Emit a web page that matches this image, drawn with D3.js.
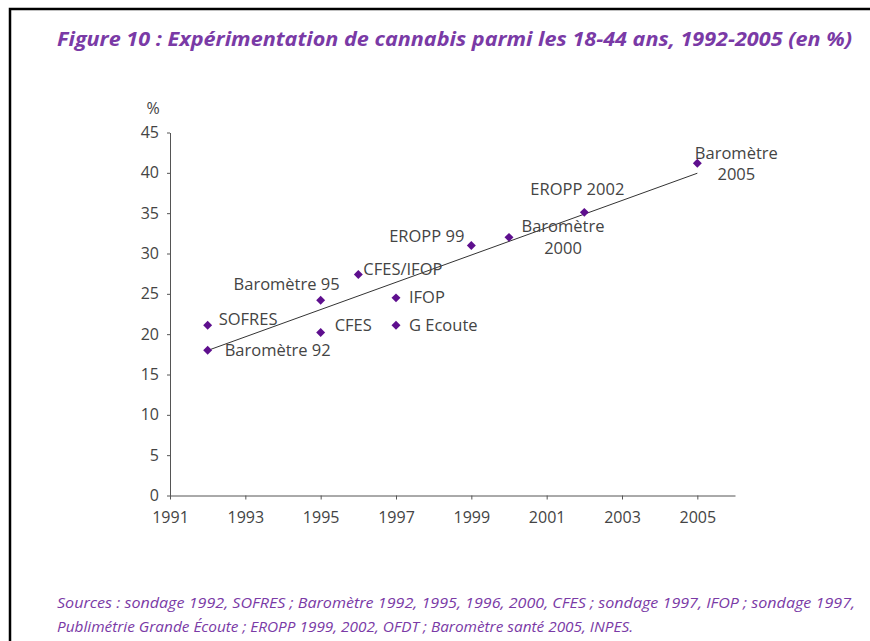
<!DOCTYPE html>
<html>
<head>
<meta charset="utf-8">
<script src="https://cdn.jsdelivr.net/npm/d3@7"></script>
<style>
  body { margin: 0; background: #fff; }
  svg { display: block; }
  .axis path, .axis line { stroke: #555; }
  .axis text { font-family: "Open Sans", sans-serif; font-size: 16px; fill: #444; }
  .lbl { font-family: "Open Sans", sans-serif; font-size: 16.5px; fill: #444; }
</style>
</head>
<body>
<svg width="870" height="641"></svg>
<script>
// survey points
var names  = ["Baromètre 92", "SOFRES", "Baromètre 95", "CFES", "CFES/IFOP", "IFOP", "G Ecoute",
              "EROPP 99", "Baromètre 2000", "EROPP 2002", "Baromètre 2005"];
var years  = [1992, 1992, 1995, 1995, 1996, 1997, 1997, 1999, 2000, 2002, 2005];
var values = [18, 21.1, 24.2, 20.2, 27.4, 24.5, 21.1, 31, 32, 35.1, 41.2];

var xTicks = [1991, 1993, 1995, 1997, 1999, 2001, 2003, 2005];
var yTicks = [0, 5, 10, 15, 20, 25, 30, 35, 40, 45];

var title = "Figure 10 : Expérimentation de cannabis parmi les 18-44 ans, 1992-2005 (en %)";
var sources = [
  "Sources : sondage 1992, SOFRES ; Baromètre 1992, 1995, 1996, 2000, CFES ; sondage 1997, IFOP ; sondage 1997,",
  "Publimétrie Grande Écoute ; EROPP 1999, 2002, OFDT ; Baromètre santé 2005, INPES."
];

// where each label sits relative to its marker
var labelPos = {
  "Baromètre 92":   {dx: 17, dy: 0, anchor: "start"},
  "SOFRES":         {dx: 11, dy: -6, anchor: "start"},
  "Baromètre 95":   {dx: 19, dy: -16, anchor: "end"},
  "CFES":           {dx: 14, dy: -7, anchor: "start"},
  "CFES/IFOP":      {dx: 5, dy: -5, anchor: "start"},
  "IFOP":           {dx: 13, dy: -1, anchor: "start"},
  "G Ecoute":       {dx: 13, dy: 0, anchor: "start"},
  "EROPP 99":       {dx: -7, dy: -9, anchor: "end"},
  "Baromètre 2000": {dx: 54, dy: -11, anchor: "middle", lines: ["Baromètre", "2000"]},
  "EROPP 2002":     {dx: -7, dy: -23, anchor: "middle"},
  "Baromètre 2005": {dx: 39, dy: -10, anchor: "middle", lines: ["Baromètre", "2005"]}
};

var data = names.map(function(n, i) { return {name: n, year: years[i], value: values[i]}; });

var svg = d3.select("svg");

var x = d3.scaleLinear().domain([1991, 2006]).range([170, 735]),
    y = d3.scaleLinear().domain([0, 45]).range([495.5, 132.5]);

// frame
svg.append("path")
    .attr("d", "M10,641V9H870")
    .attr("fill", "none")
    .attr("stroke", "#000")
    .attr("stroke-width", 2.5);

svg.append("text")
    .attr("x", 57).attr("y", 46)
    .attr("textLength", 795).attr("lengthAdjust", "spacingAndGlyphs")
    .style("font-family", "'Open Sans', sans-serif")
    .style("font-size", "19px").style("font-weight", "bold").style("font-style", "italic")
    .style("fill", "#7a3aa6")
    .text(title);

svg.append("g")
    .attr("class", "axis")
    .attr("transform", "translate(0," + y(0) + ")")
    .call(d3.axisBottom(x).tickValues(xTicks).tickFormat(d3.format("d")).tickSize(4).tickSizeOuter(0).tickPadding(12));

svg.append("g")
    .attr("class", "axis")
    .attr("transform", "translate(" + x(1991) + ",0)")
    .call(d3.axisLeft(y).tickValues(yTicks).tickSize(3).tickSizeOuter(0).tickPadding(8));

svg.selectAll(".axis .domain").attr("stroke", "#444");

svg.append("text")
    .attr("class", "lbl")
    .attr("x", 153).attr("y", 108).attr("dy", "0.35em")
    .attr("text-anchor", "middle")
    .style("font-size", "16px")
    .text("%");

// least squares trend over the survey points
var mx = d3.mean(data, function(d) { return d.year; }),
    my = d3.mean(data, function(d) { return d.value; });
var slope = d3.sum(data, function(d) { return (d.year - mx) * (d.value - my); }) /
            d3.sum(data, function(d) { return (d.year - mx) * (d.year - mx); });
var ext = d3.extent(years);
var trend = ext.map(function(t) { return {year: t, value: my + slope * (t - mx)}; });

svg.append("path")
    .datum(trend)
    .attr("fill", "none")
    .attr("stroke", "#333")
    .attr("stroke-width", 1)
    .attr("d", d3.line().x(function(d) { return x(d.year); }).y(function(d) { return y(d.value); }));

svg.selectAll(".pt")
    .data(data)
  .enter().append("path")
    .attr("class", "pt")
    .attr("transform", function(d) { return "translate(" + x(d.year) + "," + y(d.value) + ") rotate(45)"; })
    .attr("d", d3.symbol(d3.symbolSquare, 40))
    .attr("fill", "#5e0f8e");

var lbl = svg.selectAll(".lbl-g")
    .data(data)
  .enter().append("text")
    .attr("class", "lbl")
    .attr("text-anchor", function(d) { return labelPos[d.name].anchor; })
    .attr("x", function(d) { return x(d.year) + labelPos[d.name].dx; })
    .attr("y", function(d) { return y(d.value) + labelPos[d.name].dy; });

lbl.each(function(d) {
  var p = labelPos[d.name], t = d3.select(this);
  var lines = p.lines || [d.name];
  lines.forEach(function(s, i) {
    t.append("tspan")
        .attr("x", x(d.year) + p.dx)
        .attr("dy", i === 0 ? "0.35em" : "1.3em")
        .text(s);
  });
});

sources.forEach(function(s, i) {
  svg.append("text")
      .attr("x", 57).attr("y", 608 + i * 24)
      .attr("textLength", i === 0 ? 798 : 576).attr("lengthAdjust", "spacingAndGlyphs")
      .style("font-family", "'Open Sans', sans-serif")
      .style("font-size", "14.5px").style("font-style", "italic")
      .style("fill", "#7a3aa6")
      .text(s);
});
</script>
</body>
</html>
